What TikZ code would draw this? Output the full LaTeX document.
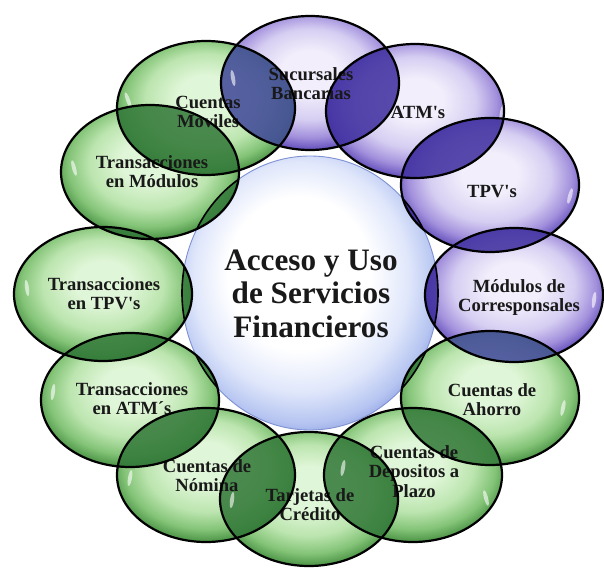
\documentclass[tikz,border=0pt]{standalone}
\usepackage{fontspec}
\setmainfont{Liberation Serif}
\definecolor{gA}{RGB}{224,246,216}
\definecolor{gB}{RGB}{188,229,175}
\definecolor{gC}{RGB}{132,196,120}
\definecolor{gD}{RGB}{78,150,72}
\definecolor{gE}{RGB}{55,122,55}
\definecolor{pA}{RGB}{242,238,251}
\definecolor{pB}{RGB}{214,206,242}
\definecolor{pC}{RGB}{162,144,220}
\definecolor{pD}{RGB}{102,82,188}
\definecolor{pE}{RGB}{70,50,160}
\definecolor{cB}{RGB}{224,231,251}
\definecolor{cC}{RGB}{182,197,241}
\definecolor{cD}{RGB}{145,162,226}
\definecolor{glens}{RGB}{50,120,56}
\definecolor{plens}{RGB}{60,44,158}
\definecolor{gplens}{RGB}{62,70,152}
\definecolor{cedge}{RGB}{125,145,212}
\pgfdeclareradialshading{gglass}{\pgfpoint{0bp}{5bp}}{color(0bp)=(gA); color(8bp)=(gA); color(17bp)=(gB); color(23bp)=(gC); color(27bp)=(gD); color(50bp)=(gE)}
\pgfdeclareradialshading{pglass}{\pgfpoint{0bp}{5bp}}{color(0bp)=(pA); color(8bp)=(pA); color(17bp)=(pB); color(23bp)=(pC); color(27bp)=(pD); color(50bp)=(pE)}
\pgfdeclareradialshading{cglass}{\pgfpoint{-3bp}{5bp}}{color(0bp)=(white); color(14bp)=(white); color(21bp)=(cB); color(26bp)=(cC); color(29bp)=(cD); color(50bp)=(cD)}
\newcommand{\lblfont}{\fontsize{18.6}{19.5}\selectfont\bfseries}
\newcommand{\bigfont}{\fontsize{31.2}{33.5}\selectfont\bfseries}
\begin{document}
\begin{tikzpicture}[x=1pt,y=-1pt,
  outl/.style={draw=black, line width=2.2pt},
  lbl/.style={font=\lblfont, align=center, anchor=base, inner sep=0pt, text=black!90},
  hilite/.style={fill=white, opacity=.6}]
\useasboundingbox (0,0) rectangle (604,567);
\fill[white] (0,0) rectangle (604,567);
\def\RX{89pt}\def\RY{67pt}
\coordinate (C) at (310,293);
\foreach \n/\x/\y in {e1/310/83, e2/415/111, e3/490/185, e4/514/295, e5/490/398, e6/413/475,
  e7/309/499, e8/206/475, e9/130/400, e10/103/294, e11/150/172, e12/206/108}
  {\coordinate (\n) at (\x,\y);}
% centre circle
\shade[shading=cglass] (C) ellipse [x radius=128pt, y radius=137pt];
\draw[cedge, line width=0.9pt] (C) ellipse [x radius=128pt, y radius=137pt];
% ellipses
\foreach \n/\s in {e1/pglass, e2/pglass, e3/pglass, e4/pglass, e5/gglass, e6/gglass,
  e7/gglass, e8/gglass, e9/gglass, e10/gglass, e11/gglass, e12/gglass}
  {\shade[shading=\s] (\n) ellipse [x radius=\RX, y radius=\RY];}
% overlaps between neighbours
\foreach \a/\b/\c in {e1/e2/plens, e2/e3/plens, e3/e4/plens, e4/e5/gplens, e5/e6/glens,
  e6/e7/glens, e7/e8/glens, e8/e9/glens, e9/e10/glens, e10/e11/glens, e11/e12/glens, e12/e1/gplens}
  {\begin{scope}
     \clip (\a) ellipse [x radius=\RX, y radius=\RY];
     \fill[\c, opacity=.85] (\b) ellipse [x radius=\RX, y radius=\RY];
   \end{scope}}
% overlaps with the centre circle
\foreach \a/\c in {e2/plens, e3/plens, e4/plens, e5/glens, e6/glens, e7/glens,
  e8/glens, e9/glens, e10/glens, e11/glens, e12/glens}
  {\begin{scope}
     \clip (\a) ellipse [x radius=\RX, y radius=\RY];
     \fill[\c, opacity=.85] (C) ellipse [x radius=128pt, y radius=137pt];
     \draw[black, line width=1.6pt] (C) ellipse [x radius=128pt, y radius=137pt];
   \end{scope}}
% highlights
\foreach \x/\y/\r in {233/78/10, 128/100/20, 74/168/15, 27/288/8, 53/392/-8, 130/478/-10, 232/500/-8,
  343/468/-10, 486/498/15, 563/408/-12, 594/300/-8, 570/196/-15, 502/112/-12}
  {\fill[hilite, rotate around={\r:(\x,\y)}] (\x,\y) ellipse [x radius=2pt, y radius=8pt];}
% labels
\node[lbl] (t1) at (311,99.5) {Sucursales\\Bancarias};
\node[lbl] (t2) at (418,118) {ATM\textquotesingle s};
\node[lbl] (t3) at (492,197) {TPV\textquotesingle s};
\node[lbl] (t4) at (519,311.5) {Módulos de\\Corresponsales};
\node[lbl] (t5) at (492,415.5) {Cuentas de\\Ahorro};
\node[lbl] (t6) at (414,497) {Cuentas de\\Depositos a\\Plazo};
\node[lbl] (t7) at (310,520.5) {Tarjetas de\\Crédito};
\node[lbl] (t8) at (207,491.5) {Cuentas de\\Nómina};
\node[lbl] (t9) at (132,414.5) {Transacciones\\en ATM´s};
\node[lbl] (t10) at (104,309.5) {Transacciones\\en TPV\textquotesingle s};
\node[lbl] (t11) at (152,187.5) {Transacciones\\en Módulos};
\node[lbl] (t12) at (208,127.5) {Cuentas\\Moviles};
\node[font=\bigfont, align=center, anchor=base, inner sep=0pt, text=black!90] (tc) at (311,337)
  {Acceso y Uso\\de Servicios\\Financieros};
% outlines
\foreach \n in {e1,e2,e3,e4,e5,e6,e7,e8,e9,e10,e11,e12}
  {\draw[outl] (\n) ellipse [x radius=\RX, y radius=\RY];}
\end{tikzpicture}
\end{document}
